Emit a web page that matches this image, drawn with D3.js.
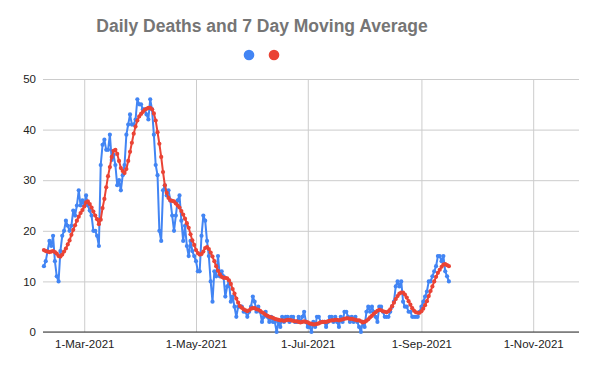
<!DOCTYPE html>
<html lang="en">
<head>
<meta charset="UTF-8">
<script src="https://cdn.jsdelivr.net/npm/d3@7"></script>
<title>Daily Deaths and 7 Day Moving Average</title>
<style>
  body { margin: 0; background: #fff; }
  svg { font-family: "Liberation Sans", Arial, sans-serif; }
</style>
</head>
<body>
<svg id="chart" width="595" height="365"></svg>
<script>
// first day of data, one value per day after that
const startDate = '2021-02-07';

// daily deaths (blue)
const deaths = [
  13, 14, 16, 18, 17, 19, 14, 11, 10, 16, 19, 20, 22, 21, 20, 21, 24, 23, 25, 28,
  25, 26, 25, 27, 25, 24, 23, 20, 20, 19, 17, 33, 37, 38, 36, 36, 39, 34, 35, 33,
  29, 30, 28, 31, 33, 39, 41, 43, 41, 41, 42, 46, 45, 45, 44, 44, 43, 42, 46, 44,
  39, 33, 31, 20, 18, 28, 29, 27, 28, 26, 23, 20, 23, 26, 27, 22, 18, 21, 17, 15,
  18, 16, 15, 14, 12, 12, 19, 23, 22, 18, 15, 10, 6, 12, 11, 15, 11, 12, 11, 7,
  9, 10, 6, 7, 5, 3, 5, 5, 5, 4, 4, 3, 4, 5, 7, 6, 4, 5, 4, 2,
  3, 4, 3, 2, 3, 2, 2, 0, 2, 1, 3, 2, 3, 3, 2, 3, 3, 2, 2, 3,
  2, 3, 4, 2, 1, 1, 0, 2, 1, 3, 3, 2, 2, 2, 1, 2, 3, 3, 2, 3,
  2, 1, 3, 2, 4, 4, 3, 2, 3, 2, 3, 2, 1, 0, 2, 1, 4, 5, 4, 5,
  4, 3, 2, 5, 5, 4, 3, 3, 3, 4, 5, 6, 9, 10, 9, 10, 6, 5, 5, 4,
  4, 3, 3, 3, 3, 4, 5, 6, 7, 8, 10, 10, 11, 12, 13, 15, 15, 14, 15, 12,
  11, 10
];

// 7 day moving average (red)
const movingAvg = [
  16.2, 16.0, 15.9, 15.8, 15.9, 16.0, 15.8, 15.5, 15.0, 14.9, 15.3, 15.9, 16.5, 17.3, 18.1, 19.2, 20.2, 21.1, 22.0, 22.8,
  23.5, 24.1, 24.8, 25.6, 25.8, 25.3, 24.6, 23.8, 23.0, 22.3, 21.3, 22.2, 24.5, 26.3, 28.6, 30.8, 32.6, 34.6, 35.8, 36.0,
  35.2, 33.8, 32.4, 31.8, 31.4, 32.2, 33.8, 35.6, 37.4, 39.2, 40.6, 41.8, 42.6, 43.1, 43.5, 43.9, 44.1, 44.3, 44.3, 44.0,
  43.2, 41.8, 39.5, 37.2, 34.6, 31.6, 29.0, 27.5, 26.5, 26.0, 25.9, 25.8, 25.4, 25.0, 24.6, 23.9, 23.2, 22.4, 21.5, 20.6,
  19.3, 18.1, 17.2, 16.2, 15.6, 15.3, 15.4, 15.9, 16.6, 16.8, 16.4, 15.7, 14.9, 14.0, 13.0, 12.1, 11.4, 10.9, 10.7, 10.7,
  10.6, 10.2, 9.5, 8.5, 7.6, 6.6, 5.8, 5.1, 4.8, 4.5, 4.3, 4.1, 4.3, 4.6, 4.7, 4.7, 4.5, 4.4, 4.2, 3.9,
  3.7, 3.4, 3.2, 3.0, 2.9, 2.8, 2.6, 2.5, 2.4, 2.3, 2.3, 2.2, 2.3, 2.4, 2.4, 2.3, 2.2, 2.1, 2.1, 2.0,
  1.9, 2.0, 2.1, 2.0, 1.9, 1.7, 1.6, 1.5, 1.5, 1.6, 1.7, 1.9, 2.0, 2.0, 2.0, 2.1, 2.2, 2.3, 2.3, 2.4,
  2.4, 2.3, 2.4, 2.5, 2.6, 2.7, 2.7, 2.6, 2.6, 2.5, 2.4, 2.3, 2.3, 2.1, 1.9, 2.0, 2.2, 2.5, 2.9, 3.2,
  3.6, 3.9, 4.2, 4.4, 4.3, 4.1, 4.0, 3.9, 4.1, 4.5, 5.1, 5.8, 6.5, 7.1, 7.6, 7.8, 7.8, 7.4, 6.8, 6.1,
  5.4, 4.7, 4.2, 3.9, 3.8, 3.8, 4.1, 4.6, 5.3, 6.1, 7.1, 8.1, 9.0, 10.0, 10.9, 11.7, 12.3, 12.9, 13.3, 13.4,
  13.2, 13.0
];

const yTicks = [0, 10, 20, 30, 40, 50];
const xTicks = ['2021-03-01', '2021-05-01', '2021-07-01', '2021-09-01', '2021-11-01'];
const xDomain = ['2021-02-06T12:00', '2021-11-26'];

const titleText = 'Daily Deaths and 7 Day Moving Average';
const seriesColors = ['#4285f4', '#ea4335'];

const svg = d3.select('#chart');
const plot = { left: 43, right: 579, top: 79, bottom: 332 };

const parseDay = d3.timeParse('%Y-%m-%d');
const start = parseDay(startDate);
const dates = deaths.map((d, i) => d3.timeDay.offset(start, i));

const x = d3.scaleTime()
  .domain(xDomain.map(s => new Date(s)))
  .range([plot.left, plot.right]);
const y = d3.scaleLinear()
  .domain([0, 50])
  .range([plot.bottom, plot.top]);

// title
svg.append('text')
  .attr('x', 262)
  .attr('y', 32)
  .attr('text-anchor', 'middle')
  .attr('font-size', 17.5)
  .attr('font-weight', 'bold')
  .attr('fill', '#757575')
  .text(titleText);

// legend dots (series have no names)
svg.selectAll('.legend')
  .data(seriesColors)
  .enter().append('circle')
  .attr('class', 'legend')
  .attr('cx', (d, i) => 249 + i * 25)
  .attr('cy', 55)
  .attr('r', 5.3)
  .attr('fill', d => d);

// horizontal grid + y labels
const yAxis = d3.axisLeft(y).tickValues(yTicks).tickSize(-(plot.right - plot.left)).tickPadding(7);
const gy = svg.append('g')
  .attr('transform', 'translate(' + plot.left + ',0)')
  .call(yAxis);
gy.select('.domain').remove();
gy.selectAll('line').attr('stroke', '#cccccc');
gy.selectAll('text').attr('font-size', 11.5).attr('fill', '#222');

// vertical grid + x labels
const xAxis = d3.axisBottom(x)
  .tickValues(xTicks.map(parseDay))
  .tickFormat(d3.timeFormat('%-d-%b-%Y'))
  .tickSize(-(plot.bottom - plot.top))
  .tickPadding(8);
const gx = svg.append('g')
  .attr('transform', 'translate(0,' + plot.bottom + ')')
  .call(xAxis);
gx.select('.domain').remove();
gx.selectAll('line').attr('stroke', '#cccccc');
gx.selectAll('text').attr('font-size', 11.5).attr('fill', '#222');

// baseline
svg.append('line')
  .attr('x1', plot.left).attr('x2', plot.right)
  .attr('y1', y(0)).attr('y2', y(0))
  .attr('stroke', '#333')
  .attr('stroke-width', 1);

// series
const series = [deaths, movingAvg];
const line = d3.line()
  .x((d, i) => x(dates[i]))
  .y(d => y(d));

series.forEach((vals, k) => {
  const g = svg.append('g');
  g.append('path')
    .datum(vals)
    .attr('d', line)
    .attr('fill', 'none')
    .attr('stroke', seriesColors[k])
    .attr('stroke-width', 2)
    .attr('stroke-linejoin', 'round');
  g.selectAll('circle')
    .data(vals)
    .enter().append('circle')
    .attr('cx', (d, i) => x(dates[i]))
    .attr('cy', d => y(d))
    .attr('r', 2.1)
    .attr('fill', seriesColors[k]);
});
</script>
</body>
</html>
